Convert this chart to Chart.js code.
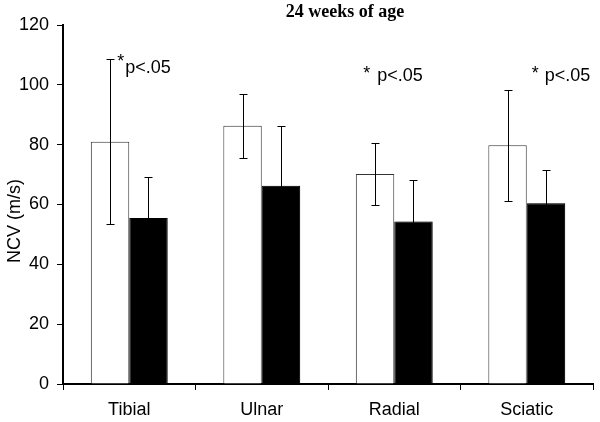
<!DOCTYPE html>
<html>
<head>
<meta charset="utf-8">
<script src="https://cdn.jsdelivr.net/npm/chart.js@4.4.0/dist/chart.umd.min.js"></script>
<style>
  html, body { margin: 0; padding: 0; background: #fff; }
  #wrap { width: 600px; height: 422px; }
</style>
</head>
<body>
<div id="wrap"><canvas id="ncvChart"></canvas></div>
<script>
const nerves = ['Tibial', 'Ulnar', 'Radial', 'Sciatic'];
const controlMean = [81, 86.3, 70.2, 79.8];
const controlErr = [27.5, 10.8, 10.3, 18.6];
const treatedMean = [55.5, 66.3, 54.3, 60.4];
const treatedErr = [13.7, 20, 14, 11];
const yTicks = [0, 20, 40, 60, 80, 100, 120];
const sigText = 'p<.05';

// significance notes: category, height (axis units), x shift, star gap, star lift
const notes = [
    { cat: 0, at: 105.6, dx: -4, gap: 8, lift: 6 },
    { cat: 2, at: 102.9, dx: -17, gap: 14, lift: 2 },
    { cat: 3, at: 102.9, dx: 18, gap: 13, lift: 2 }
];

const errorBars = {
    id: 'errorBars',
    afterDatasetsDraw(chart) {
        const ctx = chart.ctx;
        const y = chart.scales.y;
        ctx.save();
        ctx.strokeStyle = '#000';
        ctx.lineWidth = 1;
        chart.data.datasets.forEach((ds, di) => {
            const meta = chart.getDatasetMeta(di);
            meta.data.forEach((bar, i) => {
                const x = Math.round(bar.x) + 0.5;
                const hi = Math.round(y.getPixelForValue(ds.data[i] + ds.errors[i])) + 0.5;
                const lo = Math.round(y.getPixelForValue(ds.data[i] - ds.errors[i])) + 0.5;
                ctx.beginPath();
                ctx.moveTo(x, hi); ctx.lineTo(x, lo);
                ctx.moveTo(x - 4, hi); ctx.lineTo(x + 4, hi);
                ctx.moveTo(x - 4, lo); ctx.lineTo(x + 4, lo);
                ctx.stroke();
            });
        });
        ctx.restore();
    }
};

const barShadow = {
    id: 'barShadow',
    beforeDatasetDraw(chart, args) {
        if (args.index !== 1) return;
        const ctx = chart.ctx;
        ctx.save();
        ctx.shadowColor = 'rgba(0,0,0,0.28)';
        ctx.shadowOffsetX = 2;
        ctx.shadowOffsetY = 0;
        ctx.shadowBlur = 0;
    },
    afterDatasetDraw(chart, args) {
        if (args.index !== 1) return;
        chart.ctx.restore();
    }
};

const labelsPlugin = {
    id: 'labelsPlugin',
    afterDraw(chart) {
        const ctx = chart.ctx;
        const x = chart.scales.x, y = chart.scales.y;
        ctx.save();
        ctx.fillStyle = '#000';
        ctx.font = 'bold 18px "Liberation Serif"';
        ctx.textAlign = 'center';
        ctx.textBaseline = 'middle';
        ctx.fillText('24 weeks of age', 345, 12);

        // y axis title, sits a little below the axis middle in the original
        ctx.save();
        ctx.translate(15, 221);
        ctx.rotate(-Math.PI / 2);
        ctx.font = '18px "Liberation Sans"';
        ctx.fillText('NCV (m/s)', 0, 0);
        ctx.restore();

        ctx.font = '18px "Liberation Sans"';
        ctx.textAlign = 'left';
        notes.forEach(n => {
            const px = x.getPixelForValue(n.cat) + n.dx;
            const py = y.getPixelForValue(n.at);
            ctx.fillText(sigText, px, py);
            ctx.fillText('*', px - n.gap, py - n.lift);
        });
        ctx.restore();
    }
};

new Chart(document.getElementById('ncvChart'), {
    type: 'bar',
    data: {
        labels: nerves,
        datasets: [
            {
                label: 'Control',
                data: controlMean,
                errors: controlErr,
                backgroundColor: '#fff',
                borderColor: '#333',
                borderWidth: 1
            },
            {
                label: 'Treated',
                data: treatedMean,
                errors: treatedErr,
                backgroundColor: '#000',
                borderColor: '#000',
                borderWidth: 1
            }
        ]
    },
    options: {
        responsive: true,
        maintainAspectRatio: false,
        animation: false,
        categoryPercentage: 0.58,
        barPercentage: 1.0,
        layout: { padding: { top: 25, right: 7, bottom: 0, left: 0 } },
        plugins: {
            legend: { display: false },
            tooltip: { enabled: false }
        },
        scales: {
            x: {
                afterFit(scale) { scale.height = 38; },
                grid: {
                    display: true,
                    drawOnChartArea: false,
                    color: '#000',
                    tickLength: 6,
                    offset: true
                },
                border: { color: '#000', width: 2 },
                ticks: {
                    color: '#000',
                    font: { family: 'Liberation Sans', size: 18 },
                    padding: 9
                }
            },
            y: {
                min: 0,
                max: 120,
                afterBuildTicks(scale) {
                    scale.ticks = yTicks.map(v => ({ value: v }));
                },
                afterFit(scale) { scale.width = 63; },
                grid: {
                    display: true,
                    drawOnChartArea: false,
                    color: '#000',
                    tickLength: 6
                },
                border: { color: '#000', width: 2 },
                ticks: {
                    color: '#000',
                    font: { family: 'Liberation Sans', size: 18 },
                    padding: 8
                }
            }
        }
    },
    plugins: [barShadow, errorBars, labelsPlugin]
});
</script>
</body>
</html>
